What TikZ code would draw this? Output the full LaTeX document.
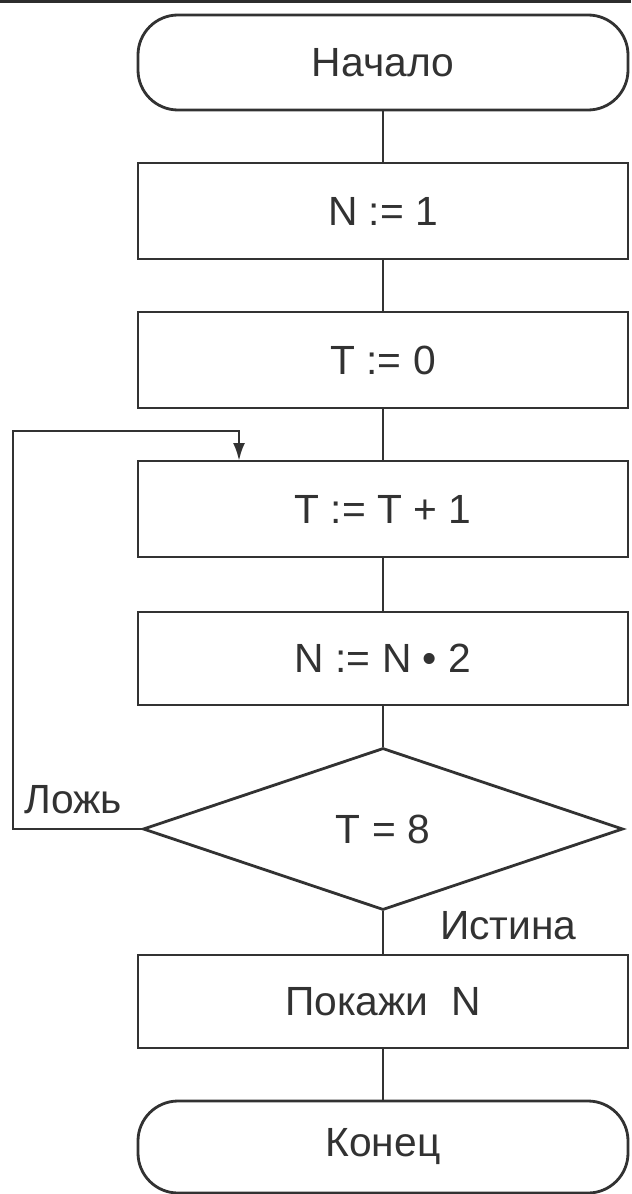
\documentclass[tikz,border=0pt]{standalone}
\usepackage{fontspec}
\setmainfont{Liberation Sans}
\usetikzlibrary{calc, positioning, arrows.meta, shapes, shapes.geometric}
\definecolor{encre}{RGB}{50,50,50}

\begin{document}
\begin{tikzpicture}[x=0.25mm, y=-0.25mm]
		\tikzstyle{bloc}=[draw=encre, line width=2pt, minimum
                width=122.5mm, minimum height=24mm, text=encre,
                font=\fontsize{29}{33}\selectfont]
		\tikzstyle{terminal}=[bloc, rounded corners=10mm]
		\tikzstyle{test}=[bloc, diamond, minimum width=120mm,
                minimum height=40.5mm, inner sep=0pt]
		\tikzstyle{etiquette}=[text=encre, inner sep=0pt,
                font=\fontsize{29}{33}\selectfont]
		\tikzstyle{lien}=[draw=encre, line width=2pt]
		\tikzstyle{fleche}=[lien, -{Latex[length=4.5mm,width=3mm]}]
                \useasboundingbox (0,0) rectangle (631,1194);
                \fill[color=gray!35!black] (0,0) rectangle (631,3);
                \node[terminal, minimum height=23.75mm] (debut) at
                (383,62.5) {Начало}; \node[bloc] (n1) at (383,211)
                {N := 1}; \node[bloc] (t0) at (383,360) {T := 0};
                \node[bloc] (tplus) at (383,509) {T := T + 1};
                \node[bloc, minimum height=23.25mm] (ndouble) at
                (383,658.5) {N := N • 2}; \node[test] (cond) at
                (383,829) {T = 8}; \node[bloc, minimum
                height=23.25mm] (affiche) at (383,1001.5) {Покажи\ \ N};
                \node[terminal, minimum height=23mm] (fin) at
                (383,1147) {Конец};
                \node[etiquette, anchor=base west] (faux) at (24,813)
                {Ложь}; \node[etiquette, anchor=base west] (vrai) at
                (440,939) {Истина};
                % liaisons
                \draw[lien] (debut) -- (n1); \draw[lien] (n1) --
                (t0); \draw[lien] (t0) -- (tplus); \draw[lien] (tplus)
                -- (ndouble); \draw[lien] (ndouble) -- (cond);
                \draw[lien] (cond) -- (affiche); \draw[lien] (affiche)
                -- (fin);
                % retour de boucle
                \coordinate (retour) at (13,431); \coordinate (entree)
                at (239,461); \draw[fleche] (cond.west) -| (retour) -|
                (entree);
\end{tikzpicture}
\end{document}
